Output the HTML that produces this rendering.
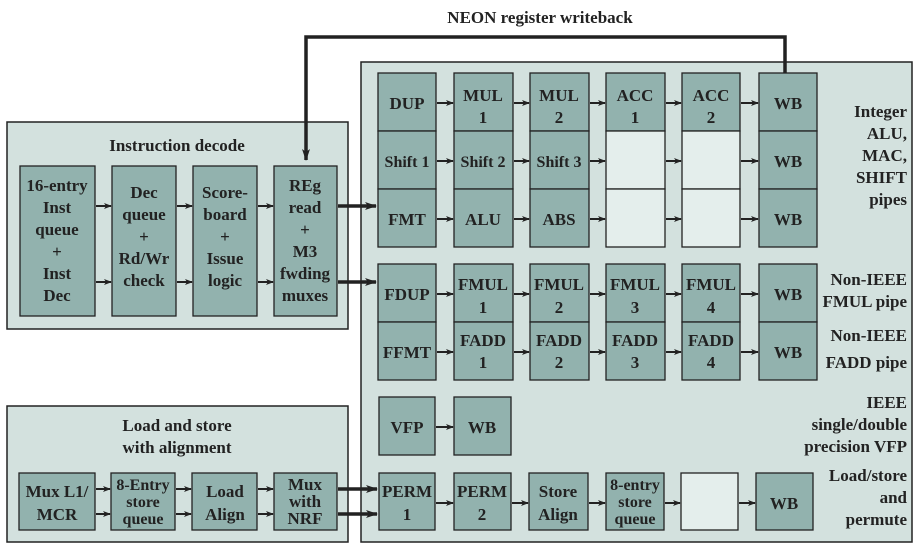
<!DOCTYPE html>
<html><head><meta charset="utf-8"><style>
html,body{margin:0;padding:0;background:#fff;width:920px;height:548px;overflow:hidden}
svg text{font-family:"Liberation Serif",serif;font-weight:bold;fill:#222}
</style></head><body>
<svg width="920" height="548" viewBox="0 0 920 548" xmlns="http://www.w3.org/2000/svg">
<defs>
<marker id="a" markerWidth="8" markerHeight="8" refX="7" refY="4" orient="auto" markerUnits="userSpaceOnUse">
<path d="M0,1 L8,4 L0,7 L2,4 Z" fill="#222"/></marker>
<marker id="b" markerWidth="12" markerHeight="10" refX="11" refY="5" orient="auto" markerUnits="userSpaceOnUse">
<path d="M0,1 L12,5 L0,9 L3,5 Z" fill="#222"/></marker>
</defs>
<g stroke="#222" stroke-width="1.5">
<rect x="361" y="62" width="551" height="480" fill="#d3e1de"/>
<rect x="7" y="122" width="341" height="207" fill="#d3e1de"/>
<rect x="7" y="406" width="341" height="136" fill="#d3e1de"/>
</g>
<text x="540" y="23" font-size="17" text-anchor="middle">NEON register writeback</text>
<path d="M785,73 V37 H306 V160" fill="none" stroke="#222" stroke-width="3.5" marker-end="url(#b)"/>
<g stroke="#222" stroke-width="1.3" fill="#92b2ae">
<rect x="378" y="73" width="58" height="58"/><rect x="454" y="73" width="59" height="58"/><rect x="530" y="73" width="59" height="58"/><rect x="606" y="73" width="59" height="58"/><rect x="682" y="73" width="58" height="58"/><rect x="759" y="73" width="58" height="58"/>
<rect x="378" y="131" width="58" height="58"/><rect x="454" y="131" width="59" height="58"/><rect x="530" y="131" width="59" height="58"/><rect x="759" y="131" width="58" height="58"/>
<rect x="378" y="189" width="58" height="58"/><rect x="454" y="189" width="59" height="58"/><rect x="530" y="189" width="59" height="58"/><rect x="759" y="189" width="58" height="58"/>
<rect x="378" y="264" width="58" height="58"/><rect x="454" y="264" width="59" height="58"/><rect x="530" y="264" width="59" height="58"/><rect x="606" y="264" width="59" height="58"/><rect x="682" y="264" width="58" height="58"/><rect x="759" y="264" width="58" height="58"/>
<rect x="378" y="322" width="58" height="58"/><rect x="454" y="322" width="59" height="58"/><rect x="530" y="322" width="59" height="58"/><rect x="606" y="322" width="59" height="58"/><rect x="682" y="322" width="58" height="58"/><rect x="759" y="322" width="58" height="58"/>
<rect x="379" y="397" width="56" height="58"/><rect x="454" y="397" width="57" height="58"/>
<rect x="379" y="473" width="56" height="57"/><rect x="454" y="473" width="57" height="57"/><rect x="529" y="473" width="59" height="57"/><rect x="606" y="473" width="58" height="57"/><rect x="756" y="473" width="57" height="57"/>
<rect x="20" y="166" width="75" height="150"/><rect x="112" y="166" width="64" height="150"/><rect x="193" y="166" width="64" height="150"/><rect x="274" y="166" width="63" height="150"/>
<rect x="19" y="473" width="76" height="57"/><rect x="111" y="473" width="64" height="57"/><rect x="192" y="473" width="65" height="57"/><rect x="274" y="473" width="63" height="57"/>
</g>
<g stroke="#222" stroke-width="1.3" fill="#e4eeec">
<rect x="606" y="131" width="59" height="58"/><rect x="682" y="131" width="58" height="58"/>
<rect x="606" y="189" width="59" height="58"/><rect x="682" y="189" width="58" height="58"/>
<rect x="681" y="473" width="57" height="57"/>
</g>
<g stroke="#222" stroke-width="2" marker-end="url(#a)">
<line x1="437" y1="103" x2="453" y2="103"/><line x1="514" y1="103" x2="529" y2="103"/><line x1="590" y1="103" x2="605" y2="103"/><line x1="666" y1="103" x2="681" y2="103"/><line x1="741" y1="103" x2="758" y2="103"/>
<line x1="437" y1="161" x2="453" y2="161"/><line x1="514" y1="161" x2="529" y2="161"/><line x1="590" y1="161" x2="605" y2="161"/><line x1="666" y1="161" x2="681" y2="161"/><line x1="741" y1="161" x2="758" y2="161"/>
<line x1="437" y1="219" x2="453" y2="219"/><line x1="514" y1="219" x2="529" y2="219"/><line x1="590" y1="219" x2="605" y2="219"/><line x1="666" y1="219" x2="681" y2="219"/><line x1="741" y1="219" x2="758" y2="219"/>
<line x1="437" y1="294" x2="453" y2="294"/><line x1="514" y1="294" x2="529" y2="294"/><line x1="590" y1="294" x2="605" y2="294"/><line x1="666" y1="294" x2="681" y2="294"/><line x1="741" y1="294" x2="758" y2="294"/>
<line x1="437" y1="352" x2="453" y2="352"/><line x1="514" y1="352" x2="529" y2="352"/><line x1="590" y1="352" x2="605" y2="352"/><line x1="666" y1="352" x2="681" y2="352"/><line x1="741" y1="352" x2="758" y2="352"/>
<line x1="436" y1="427" x2="453" y2="427"/>
<line x1="436" y1="503" x2="453" y2="503"/><line x1="512" y1="503" x2="528" y2="503"/><line x1="589" y1="503" x2="605" y2="503"/><line x1="665" y1="503" x2="680" y2="503"/><line x1="739" y1="503" x2="755" y2="503"/>
<line x1="96" y1="206" x2="111" y2="206"/><line x1="177" y1="206" x2="192" y2="206"/><line x1="258" y1="206" x2="273" y2="206"/>
<line x1="96" y1="282" x2="111" y2="282"/><line x1="177" y1="282" x2="192" y2="282"/><line x1="258" y1="282" x2="273" y2="282"/>
<line x1="96" y1="489" x2="110" y2="489"/><line x1="176" y1="489" x2="191" y2="489"/><line x1="258" y1="489" x2="273" y2="489"/>
<line x1="96" y1="514" x2="110" y2="514"/><line x1="176" y1="514" x2="191" y2="514"/><line x1="258" y1="514" x2="273" y2="514"/>
</g>
<g stroke="#222" stroke-width="3.5" marker-end="url(#b)">
<line x1="338" y1="206" x2="376" y2="206"/><line x1="338" y1="282" x2="376" y2="282"/>
<line x1="338" y1="489" x2="377" y2="489"/><line x1="338" y1="514" x2="377" y2="514"/>
</g>
<g font-size="17" text-anchor="middle">
<text x="407" y="109">DUP</text><text x="483" y="101">MUL</text><text x="483" y="123">1</text><text x="559" y="101">MUL</text><text x="559" y="123">2</text><text x="635" y="101">ACC</text><text x="635" y="123">1</text><text x="711" y="101">ACC</text><text x="711" y="123">2</text><text x="788" y="109">WB</text>
<text x="407" y="167" font-size="16">Shift 1</text><text x="483" y="167" font-size="16">Shift 2</text><text x="559" y="167" font-size="16">Shift 3</text><text x="788" y="167">WB</text>
<text x="407" y="225">FMT</text><text x="483" y="225">ALU</text><text x="559" y="225">ABS</text><text x="788" y="225">WB</text>
<text x="407" y="300">FDUP</text><text x="483" y="290">FMUL</text><text x="483" y="313">1</text><text x="559" y="290">FMUL</text><text x="559" y="313">2</text><text x="635" y="290">FMUL</text><text x="635" y="313">3</text><text x="711" y="290">FMUL</text><text x="711" y="313">4</text><text x="788" y="300">WB</text>
<text x="407" y="358">FFMT</text><text x="483" y="346">FADD</text><text x="483" y="368">1</text><text x="559" y="346">FADD</text><text x="559" y="368">2</text><text x="635" y="346">FADD</text><text x="635" y="368">3</text><text x="711" y="346">FADD</text><text x="711" y="368">4</text><text x="788" y="358">WB</text>
<text x="407" y="433">VFP</text><text x="482" y="433">WB</text>
<text x="407" y="497">PERM</text><text x="407" y="520">1</text><text x="482" y="497">PERM</text><text x="482" y="520">2</text><text x="558" y="497">Store</text><text x="558" y="520">Align</text>
<text x="635" y="490" font-size="16">8-entry</text><text x="635" y="507" font-size="16">store</text><text x="635" y="524" font-size="16">queue</text><text x="784" y="509">WB</text>
<text x="177" y="151">Instruction decode</text>
<text x="57" y="191">16-entry</text><text x="57" y="213">Inst</text><text x="57" y="235">queue</text><text x="57" y="257">+</text><text x="57" y="279">Inst</text><text x="57" y="301">Dec</text>
<text x="144" y="198">Dec</text><text x="144" y="220">queue</text><text x="144" y="242">+</text><text x="144" y="264">Rd/Wr</text><text x="144" y="286">check</text>
<text x="225" y="198">Score-</text><text x="225" y="220">board</text><text x="225" y="242">+</text><text x="225" y="264">Issue</text><text x="225" y="286">logic</text>
<text x="305" y="191">REg</text><text x="305" y="213">read</text><text x="305" y="235">+</text><text x="305" y="257">M3</text><text x="305" y="279">fwding</text><text x="305" y="301">muxes</text>
<text x="177" y="431">Load and store</text><text x="177" y="453">with alignment</text>
<text x="57" y="497">Mux L1/</text><text x="57" y="520">MCR</text>
<text x="143" y="490" font-size="16">8-Entry</text><text x="143" y="507" font-size="16">store</text><text x="143" y="524" font-size="16">queue</text>
<text x="225" y="497">Load</text><text x="225" y="520">Align</text>
<text x="305" y="490">Mux</text><text x="305" y="507">with</text><text x="305" y="524">NRF</text>
</g>
<g font-size="17" text-anchor="end">
<text x="907" y="117">Integer</text><text x="907" y="139">ALU,</text><text x="907" y="161">MAC,</text><text x="907" y="183">SHIFT</text><text x="907" y="205">pipes</text>
<text x="907" y="285">Non-IEEE</text><text x="907" y="307">FMUL pipe</text>
<text x="907" y="341">Non-IEEE</text><text x="907" y="368">FADD pipe</text>
<text x="907" y="408">IEEE</text><text x="907" y="430">single/double</text><text x="907" y="452">precision VFP</text>
<text x="907" y="481">Load/store</text><text x="907" y="503">and</text><text x="907" y="525">permute</text>
</g>
</svg>
</body></html>
